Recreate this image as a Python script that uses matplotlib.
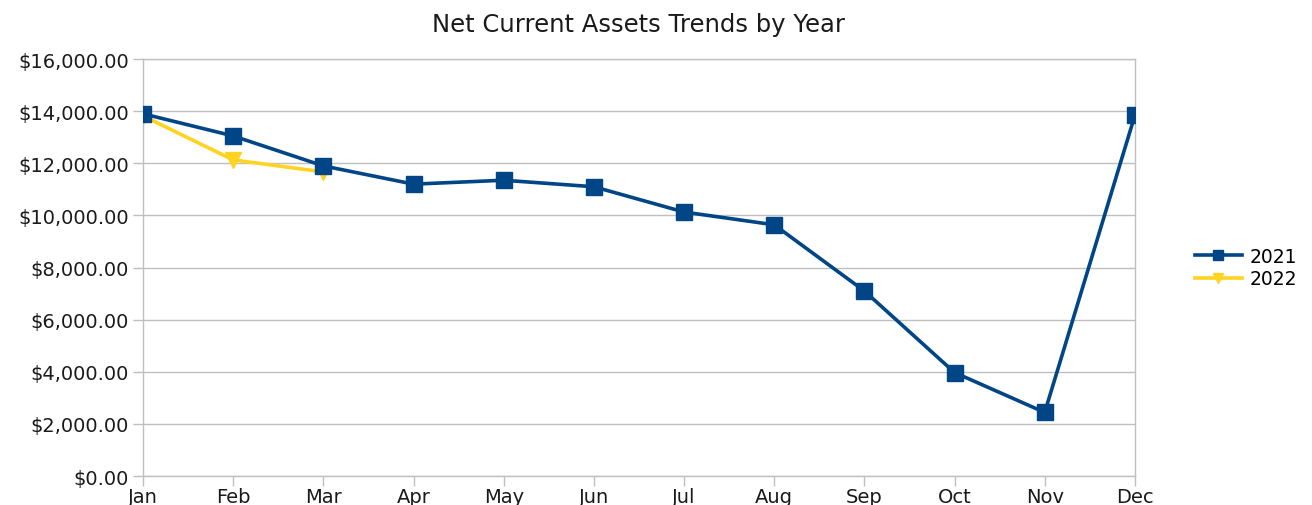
import matplotlib
matplotlib.use("Agg")
from matplotlib import pyplot as plt
from matplotlib.ticker import FuncFormatter

months = ['Jan', 'Feb', 'Mar', 'Apr', 'May', 'Jun', 'Jul', 'Aug', 'Sep', 'Oct', 'Nov', 'Dec']
assets2021 = [13900, 13050, 11900, 11200, 11350, 11100, 10130, 9640, 7100, 3970, 2440, 13840]
assets2022 = [13820, 12130, 11670]
yTicks = [0, 2000, 4000, 6000, 8000, 10000, 12000, 14000, 16000]

plt.rcParams['font.family'] = ['DejaVu Sans']
gridColor = '#bfbfbf'
textColor = '#1a1a1a'

fig = plt.figure(figsize=(13.12, 5.06), dpi=100)
ax = fig.add_axes([0.109, 0.0573, 0.756, 0.824])

x = list(range(len(months)))
ax.plot(x, assets2021, color='#004586', linewidth=2.6, marker='s', markersize=11, label='2021', zorder=3)
ax.plot(x[:len(assets2022)], assets2022, color='#ffd320', linewidth=2.6, marker='v', markersize=11, label='2022', zorder=2)

ax.set_xlim(0, 11)
ax.set_ylim(0, 16000)
ax.set_xticks(x)
ax.set_xticklabels(months)
ax.set_yticks(yTicks)
ax.yaxis.set_major_formatter(FuncFormatter(lambda v, p: '${:,.2f}'.format(v)))
ax.yaxis.grid(True, color=gridColor, linewidth=1.0)
ax.xaxis.grid(False)
ax.set_axisbelow(True)
for s in ax.spines.values():
    s.set_color(gridColor)
    s.set_linewidth(1.0)
ax.tick_params(axis='both', colors=gridColor, length=7, width=1.0, labelsize=14, labelcolor=textColor)
ax.tick_params(axis='x', pad=1)
ax.tick_params(axis='y', pad=3)

ax.set_title('Net Current Assets Trends by Year', fontsize=17.5, color=textColor, pad=20)
ax.legend(loc='center left', bbox_to_anchor=(1.055, 0.5), frameon=False, fontsize=13.5,
          handlelength=2.5, handletextpad=0.4, labelspacing=0.2, markerscale=0.7,
          borderpad=0.3, borderaxespad=0.0)

plt.savefig('out.png', dpi=100)
